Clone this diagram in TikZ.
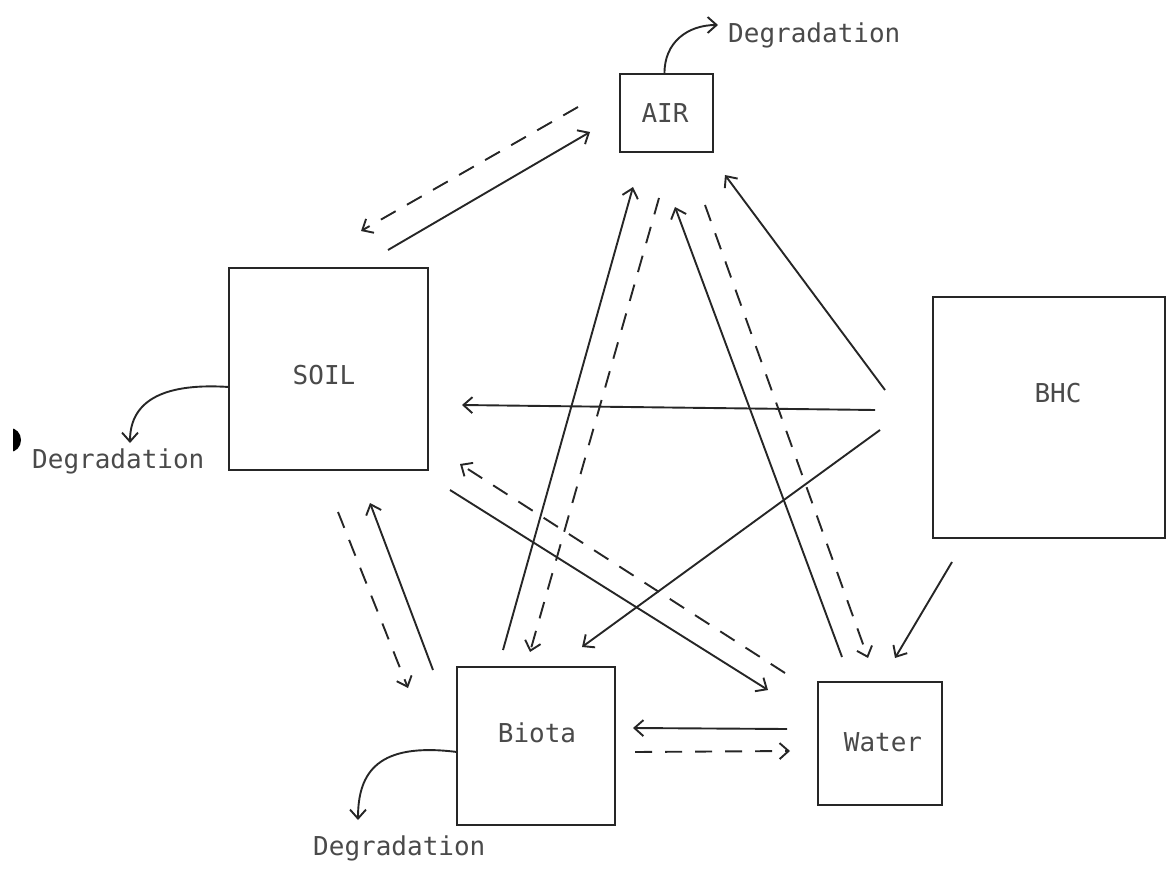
\documentclass[tikz,border=0pt]{standalone}
\usepackage{fontspec}
\newfontfamily\tw{DejaVu Sans Mono}
\usetikzlibrary{arrows.meta}
\definecolor{ink}{HTML}{262626}
\definecolor{txt}{HTML}{4A4A4A}
\tikzset{
  comp/.style={draw=ink, line width=2pt, inner sep=0pt, outer sep=0pt},
  lab/.style={inner sep=0pt, text=txt, font=\tw\fontsize{26}{30}\selectfont},
  flow/.style={draw=ink, line width=1.9pt, -{Straight Barb[length=9pt,width=16pt,line width=1.9pt]}},
  dflow/.style={flow, dash pattern=on 17pt off 13pt},
}
\begin{document}
\begin{tikzpicture}[x=1pt,y=-1pt]
\useasboundingbox (0,0) rectangle (1167,869);
% boxes
\node[comp, minimum width=93pt, minimum height=78pt] (air) at (666.5,113) {};
\node[comp, minimum width=199pt, minimum height=202pt] (soil) at (328.5,369) {};
\node[comp, minimum width=232pt, minimum height=241pt] (bhc) at (1049,417.5) {};
\node[comp, minimum width=158pt, minimum height=158pt] (biota) at (536,746) {};
\node[comp, minimum width=124pt, minimum height=123pt] (water) at (880,743.5) {};
% box texts
\node[lab] (tair) at (665,113) {AIR};
\node[lab] (tsoil) at (324,375) {SOIL};
\node[lab] (tbhc) at (1058,393) {BHC};
\node[lab] (tbiota) at (537,733) {Biota};
\node[lab] (twater) at (883,742) {Water};
% degradation labels
\node[lab, anchor=west] (dair) at (728,35) {Degradation};
\node[lab, anchor=west] (dsoil) at (32,461) {Degradation};
\node[lab, anchor=west] (dbiota) at (313,848) {Degradation};
% scan mark
\begin{scope}
\clip (13,420) rectangle (30,460);
\fill[black] (10,440) ellipse (11pt and 12pt);
\end{scope}
% degradation curves
\draw[flow] ([shift={(-2,0)}]air.north) .. controls (664,42) and (688,25) .. ([shift={(-10,-10)}]dair.west);
\draw[flow] ([shift={(0,18)}]soil.west) .. controls (168,383) and (130,398) .. (130,443);
\draw[flow] ([shift={(0,6)}]biota.west) .. controls (378,742) and (358,772) .. (358,820);
% soil <-> air
\draw[flow]  ([shift={(-40,-18)}]soil.north east) -- ([shift={(-30,-20)}]air.south west);
\draw[dflow] ([shift={(-42,-6)}]air.west) -- ([shift={(32.5,-37)}]soil.north);
% biota <-> air
\draw[flow]  ([shift={(-33,-17)}]biota.north) -- ([shift={(-33.5,35)}]air.south);
\draw[dflow] ([shift={(-7.5,46)}]air.south) -- ([shift={(-6,-15)}]biota.north);
% water <-> air
\draw[flow]  ([shift={(-38,-25)}]water.north) -- ([shift={(8.5,55)}]air.south);
\draw[dflow] ([shift={(38.5,53)}]air.south) -- ([shift={(-12,-24)}]water.north);
% bhc outputs
\draw[flow] ([shift={(-48,-27.5)}]bhc.west) -- ([shift={(12,23)}]air.south east);
\draw[flow] ([shift={(-58,-7.5)}]bhc.west) -- ([shift={(34,36)}]soil.east);
\draw[flow] ([shift={(-53,12.5)}]bhc.west) -- ([shift={(46,-20)}]biota.north);
\draw[flow] ([shift={(19,24)}]bhc.south west) -- ([shift={(15,-24)}]water.north);
% soil <-> water
\draw[flow]  ([shift={(22,20)}]soil.south east) -- ([shift={(-50,8)}]water.north west);
\draw[dflow] ([shift={(-33,-9)}]water.north west) -- ([shift={(32,-6)}]soil.south east);
% soil <-> biota
\draw[dflow] ([shift={(9.5,42)}]soil.south) -- ([shift={(-49,21)}]biota.north west);
\draw[flow]  ([shift={(-24,3)}]biota.north west) -- ([shift={(41.5,33)}]soil.south);
% biota <-> water
\draw[flow]  ([shift={(-31,-14.5)}]water.west) -- ([shift={(18,-18)}]biota.east);
\draw[dflow] ([shift={(20,6)}]biota.east) -- ([shift={(-28,7.5)}]water.west);
\end{tikzpicture}
\end{document}
